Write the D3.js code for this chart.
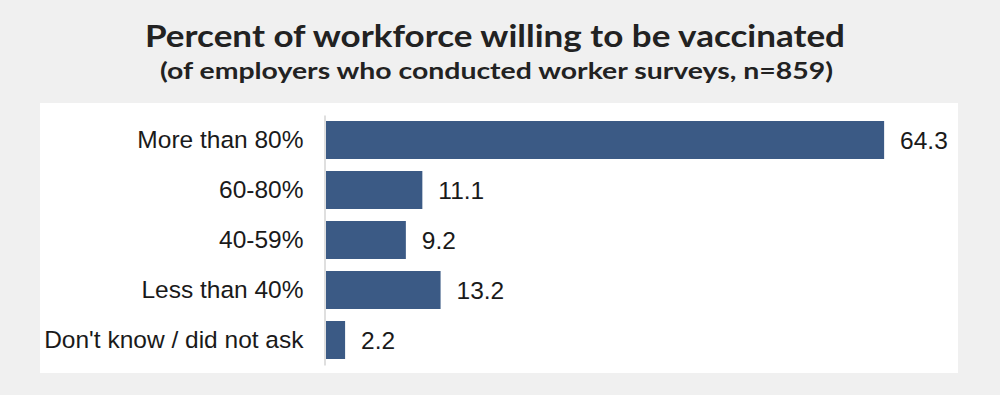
<!DOCTYPE html>
<html><head><meta charset="utf-8">
<script src="https://cdn.jsdelivr.net/npm/d3@7"></script>
<style>
html,body{margin:0;padding:0;background:#f0f0f0;}
svg{display:block;}
</style></head>
<body>
<svg id="chart" width="1000" height="395"></svg>
<script>
const categories = ["More than 80%", "60-80%", "40-59%", "Less than 40%", "Don't know / did not ask"];
const values = [64.3, 11.1, 9.2, 13.2, 2.2];
const valueLabels = ["64.3", "11.1", "9.2", "13.2", "2.2"];
const titleText = "Percent of workforce willing to be vaccinated";
const subtitleText = "(of employers who conducted worker surveys, n=859)";

const svg = d3.select("#chart");
svg.append("rect").attr("x",0).attr("y",0).attr("width",1000).attr("height",395).attr("fill","#f0f0f0");
svg.append("rect").attr("x",40).attr("y",103).attr("width",918).attr("height",270).attr("fill","#ffffff");

const titleFont = "'Lato', 'Open Sans', sans-serif";
svg.append("text").attr("x",495).attr("y",46.5).attr("text-anchor","middle")
  .attr("font-family",titleFont).attr("font-weight",700).attr("font-size",30).attr("fill","#222")
  .attr("textLength",700).attr("lengthAdjust","spacingAndGlyphs")
  .text(titleText);
svg.append("text").attr("x",496.5).attr("y",79).attr("text-anchor","middle")
  .attr("font-family",titleFont).attr("font-weight",700).attr("font-size",22.5).attr("fill","#222")
  .attr("textLength",673).attr("lengthAdjust","spacingAndGlyphs")
  .text(subtitleText);

const y = d3.scaleBand().domain(categories).range([115, 365]).paddingInner(0.24).paddingOuter(0.12);
const x = d3.scaleLinear().domain([0, 70]).range([326, 326 + 70*8.68]);

const font = "'Liberation Sans', Arial, sans-serif";

svg.selectAll("rect.bar").data(values).enter().append("rect")
  .attr("class","bar")
  .attr("x", x(0))
  .attr("y", (d,i)=>y(categories[i]))
  .attr("width", d=>x(d)-x(0))
  .attr("height", y.bandwidth())
  .attr("fill","#3b5a85");

const axis = svg.append("g").attr("transform",`translate(${x(0)-1.5},0)`)
  .call(d3.axisLeft(y).tickSize(0).tickPadding(21));
axis.select(".domain").attr("stroke","#d4d4d4").attr("stroke-width",1.5);
axis.selectAll("text").attr("font-family",font).attr("font-size",24.5).attr("fill","#1a1a1a");

svg.selectAll("text.val").data(values).enter().append("text")
  .attr("class","val")
  .attr("x", d=>x(d)+16)
  .attr("y", (d,i)=>y(categories[i]) + y.bandwidth()/2)
  .attr("dy","0.35em")
  .attr("font-family",font).attr("font-size",24.5).attr("fill","#1a1a1a")
  .text((d,i)=>valueLabels[i]);
</script>
</body></html>
